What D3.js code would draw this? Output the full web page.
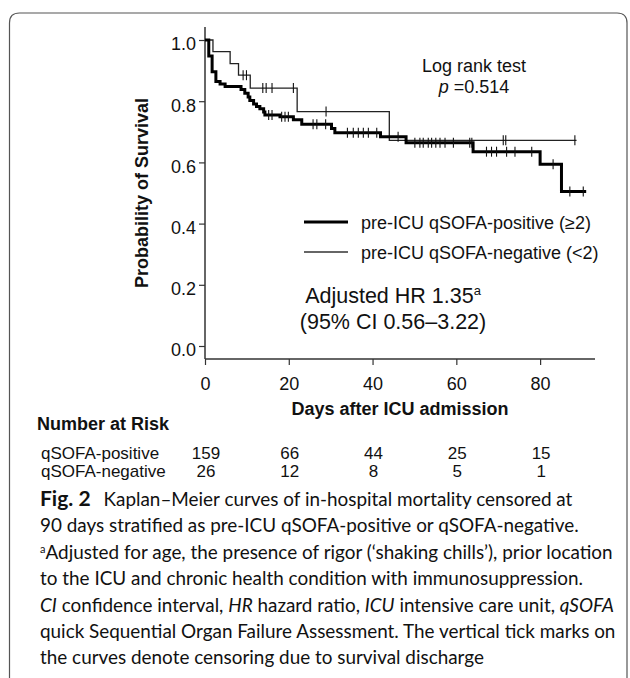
<!DOCTYPE html>
<html>
<head>
<meta charset="utf-8">
<script src="https://cdn.jsdelivr.net/npm/d3@7"></script>
<style>
  body { margin: 0; background: #fff; }
  text { font-family: "Liberation Sans", Arial, sans-serif; fill: #111; }
  .cap { font-family: Lato, "Open Sans", sans-serif; white-space: pre; }
</style>
</head>
<body>
<svg id="chart"></svg>
<script>
// step curves (day, survival after that day)
var posTimes = [0, 0.9, 1.7, 2.6, 3.6, 4.8, 8.6, 9.5, 10.3, 10.7, 11.6, 12.3, 13.1, 14.0, 14.3, 17.9, 21.1, 23.1, 30.2, 31.0, 41.9, 48.0, 64.0, 80.0, 85.1];
var posSurv  = [1.0, 0.948, 0.896, 0.864, 0.856, 0.848, 0.838, 0.826, 0.814, 0.802, 0.791, 0.783, 0.775, 0.765, 0.755, 0.749, 0.739, 0.725, 0.711, 0.697, 0.684, 0.664, 0.635, 0.594, 0.505];
var posEnd = 91;
var posCensor = [15.2, 16.0, 18.3, 19.1, 19.9, 25.8, 26.7, 28.8, 34.0, 35.4, 36.6, 37.8, 39.0, 41.0, 46.1, 50.1, 51.3, 52.1, 53.3, 54.1, 55.1, 56.1, 57.3, 59.3, 63.2, 63.7, 67.2, 68.4, 69.6, 72.0, 74.0, 78.0, 83.1, 87.1, 90.3];

var negTimes = [0, 1.9, 6.0, 8.0, 10.8, 22.0, 44.0];
var negSurv  = [1.0, 0.962, 0.923, 0.885, 0.843, 0.766, 0.672];
var negEnd = 88.7;
var negCensor = [9.1, 9.9, 13.8, 14.6, 16.0, 21.1, 28.9, 71.2, 71.8, 88.3];

var xTicks = [0, 20, 40, 60, 80];
var yTicks = [0, 0.2, 0.4, 0.6, 0.8, 1.0];

var riskDays = [0, 20, 40, 60, 80];
var riskPos = [159, 66, 44, 25, 15];
var riskNeg = [26, 12, 8, 5, 1];
var riskLabels = ["qSOFA-positive", "qSOFA-negative"];

var legendLabels = ["pre-ICU qSOFA-positive (\u22652)", "pre-ICU qSOFA-negative (<2)"];

var captionLines = [
  [{t: "Fig. 2", b: 1}, {t: "Kaplan\u2013Meier curves of in-hospital mortality censored at", gap: 1}],
  [{t: "90 days stratified as pre-ICU qSOFA-positive or qSOFA-negative."}],
  [{t: "a", sup: 1}, {t: "Adjusted for age, the presence of rigor (\u2018shaking chills\u2019), prior location"}],
  [{t: "to the ICU and chronic health condition with immunosuppression."}],
  [{t: "CI", i: 1}, {t: " confidence interval, "}, {t: "HR", i: 1}, {t: " hazard ratio, "}, {t: "ICU", i: 1}, {t: " intensive care unit, "}, {t: "qSOFA", i: 1}],
  [{t: "quick Sequential Organ Failure Assessment. The vertical tick marks on"}],
  [{t: "the curves denote censoring due to survival discharge"}]
];

var width = 630, height = 678;

var svg = d3.select("#chart")
    .attr("width", width)
    .attr("height", height);

// rounded frame, bottom runs off the page
svg.append("path")
    .attr("d", "M9.5,700 L9.5,23 Q9.5,13 19.5,13 L617,13 Q627,13 627,23 L627,700")
    .attr("fill", "none")
    .attr("stroke", "#555")
    .attr("stroke-width", 1.2);

var x = d3.scaleLinear().domain([0, 90]).range([205, 582]);
var y = d3.scaleLinear().domain([0, 1]).range([346, 40]);

// axes
var yAxis = svg.append("g")
    .attr("transform", "translate(205,0)")
    .call(d3.axisLeft(y).tickValues(yTicks).tickFormat(d3.format(".1f")).tickSize(6).tickPadding(3));
yAxis.select(".domain").attr("d", "M0,27V359");

var xAxis = svg.append("g")
    .attr("transform", "translate(0,359)")
    .call(d3.axisBottom(x).tickValues(xTicks).tickSize(6).tickPadding(12));
xAxis.select(".domain").attr("d", "M205,0H595");

svg.selectAll(".domain").attr("stroke", "#333").attr("stroke-width", 1.5);
svg.selectAll(".tick line").attr("stroke", "#333").attr("stroke-width", 1.2);
svg.selectAll(".tick text")
    .attr("font-size", 18)
    .attr("font-family", "Liberation Sans, Arial, sans-serif")
    .attr("fill", "#111");
yAxis.selectAll(".tick text").attr("dy", "0.55em");

// step curves
function stepPoints(times, surv, end) {
  var pts = times.map(function(t, i) { return [t, surv[i]]; });
  pts.push([end, surv[surv.length - 1]]);
  return pts;
}
function survAt(times, surv, t) {
  var s = surv[0];
  times.forEach(function(tt, i) { if (tt <= t) s = surv[i]; });
  return s;
}

var line = d3.line()
    .x(function(d) { return x(d[0]); })
    .y(function(d) { return y(d[1]); })
    .curve(d3.curveStepAfter);

var groups = [
  {times: negTimes, surv: negSurv, end: negEnd, cens: negCensor, w: 1.3, color: "#222"},
  {times: posTimes, surv: posSurv, end: posEnd, cens: posCensor, w: 3, color: "#000"}
];

groups.forEach(function(g) {
  svg.append("path")
      .datum(stepPoints(g.times, g.surv, g.end))
      .attr("d", line)
      .attr("fill", "none")
      .attr("stroke", g.color)
      .attr("stroke-width", g.w);

  svg.selectAll(null)
      .data(g.cens)
      .enter().append("line")
      .attr("x1", function(d) { return x(d); })
      .attr("x2", function(d) { return x(d); })
      .attr("y1", function(d) { return y(survAt(g.times, g.surv, d)) - 5; })
      .attr("y2", function(d) { return y(survAt(g.times, g.surv, d)) + 5; })
      .attr("stroke", "#111")
      .attr("stroke-width", 1.1);
});

// y title
svg.append("text")
    .attr("transform", "translate(148,193) rotate(-90)")
    .attr("text-anchor", "middle")
    .attr("font-size", 18)
    .attr("font-weight", "bold")
    .text("Probability of Survival");

// x title
svg.append("text")
    .attr("x", 400).attr("y", 415)
    .attr("text-anchor", "middle")
    .attr("font-size", 18)
    .attr("font-weight", "bold")
    .text("Days after ICU admission");

// log rank
svg.append("text")
    .attr("x", 474).attr("y", 72)
    .attr("text-anchor", "middle")
    .attr("font-size", 18)
    .text("Log rank test");
var pt = svg.append("text")
    .attr("x", 474).attr("y", 93)
    .attr("text-anchor", "middle")
    .attr("font-size", 18);
pt.append("tspan").attr("font-style", "italic").text("p");
pt.append("tspan").text(" =0.514");

// legend
var legY = [222, 252];
var legW = [3, 1.3];
legendLabels.forEach(function(l, i) {
  svg.append("line")
      .attr("x1", 304).attr("x2", 348)
      .attr("y1", legY[i]).attr("y2", legY[i])
      .attr("stroke", i == 0 ? "#000" : "#333")
      .attr("stroke-width", legW[i]);
  svg.append("text")
      .attr("x", 361).attr("y", legY[i] + 7)
      .attr("font-size", 18)
      .text(l);
});

// hazard ratio
var hr = svg.append("text")
    .attr("x", 393).attr("y", 303)
    .attr("text-anchor", "middle")
    .attr("font-size", 21.5);
hr.append("tspan").text("Adjusted HR 1.35");
hr.append("tspan").attr("font-size", 13).attr("dy", -8).text("a");
svg.append("text")
    .attr("x", 393).attr("y", 329)
    .attr("text-anchor", "middle")
    .attr("font-size", 21.5)
    .text("(95% CI 0.56\u20133.22)");

// number at risk table
svg.append("text")
    .attr("x", 37).attr("y", 430)
    .attr("font-size", 18)
    .attr("font-weight", "bold")
    .text("Number at Risk");

[riskPos, riskNeg].forEach(function(row, r) {
  var ry = 459 + r * 18;
  svg.append("text")
      .attr("x", 41).attr("y", ry)
      .attr("font-size", 17)
      .text(riskLabels[r]);
  svg.selectAll(null)
      .data(row)
      .enter().append("text")
      .attr("x", function(d, i) { return x(riskDays[i]) + 1; })
      .attr("y", ry)
      .attr("text-anchor", "middle")
      .attr("font-size", 17)
      .text(function(d) { return d; });
});

// caption
captionLines.forEach(function(segs, i) {
  var t = svg.append("text")
      .attr("class", "cap")
      .attr("x", 40)
      .attr("y", 506 + i * 26.4)
      .attr("font-size", 18.9);
  segs.forEach(function(s) {
    var ts = t.append("tspan").text(s.t);
    if (s.b) ts.attr("font-weight", "bold").attr("font-size", 21);
    if (s.gap) ts.attr("dx", 13);
    if (s.i) ts.attr("font-style", "italic");
    if (s.sup) ts.attr("font-size", 11).attr("baseline-shift", "6");
  });
});
</script>
</body>
</html>
